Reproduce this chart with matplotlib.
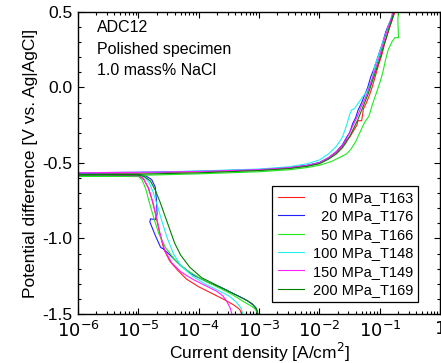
import matplotlib
matplotlib.use("Agg")
import matplotlib.pyplot as plt
import numpy as np
from matplotlib.ticker import LogLocator, MultipleLocator, FixedFormatter, FixedLocator

plt.rcParams["font.family"] = ["Liberation Sans", "DejaVu Sans"]
plt.rcParams["axes.unicode_minus"] = False

# figure spaces (U+2007) keep the legend labels right-aligned like the original
labels = ["\u2007\u20070 MPa_T163", "\u200720 MPa_T176", "\u200750 MPa_T166",
          "100 MPa_T148", "150 MPa_T149", "200 MPa_T169"]
colors = ["#ff2020", "#2020ff", "#20e820", "#20f0f0", "#ff20ff", "#008000"]

# each curve: cathodic branch from the bottom up to Ecorr, then anodic branch (log10 current, potential)
red_logi = [-3.29, -3.32, -3.42, -3.6, -3.8, -4.0, -4.2, -4.35, -4.48, -4.58, -4.65, -4.71, -4.77, -4.84, -4.92, -5.0, -5.5, -7,
            -7, -5, -4, -3, -2.5, -2.2, -2.0, -1.85, -1.72, -1.62, -1.55, -1.5, -1.44, -1.38, -1.36, -1.30, -1.27, -1.22,
            -1.17, -1.12, -1.07, -1.02, -0.97, -0.92, -0.86, -0.80, -0.75, -0.72]
red_e = [-1.5, -1.47, -1.44, -1.40, -1.36, -1.32, -1.27, -1.21, -1.15, -1.07, -0.96, -0.85, -0.75, -0.66, -0.60, -0.585, -0.582, -0.58,
         -0.572, -0.566, -0.558, -0.546, -0.532, -0.518, -0.50, -0.47, -0.43, -0.39, -0.35, -0.33, -0.29, -0.25, -0.22, -0.22, -0.14, -0.10,
         -0.05, 0.01, 0.08, 0.15, 0.21, 0.29, 0.37, 0.44, 0.50, 0.55]

blue_logi = [-3.02, -3.04, -3.1, -3.2, -3.4, -3.6, -3.85, -4.1, -4.3, -4.45, -4.58, -4.63, -4.72, -4.77, -4.81, -4.80, -4.72, -4.69,
             -4.70, -4.72, -4.78, -4.88, -5.0, -7,
             -7, -5, -4, -3, -2.5, -2.2, -2.0, -1.85, -1.72, -1.62, -1.55, -1.5, -1.45, -1.40, -1.36, -1.30, -1.25, -1.20,
             -1.15, -1.10, -1.05, -1.00, -0.95, -0.90, -0.85, -0.80, -0.76]
blue_e = [-1.5, -1.47, -1.44, -1.41, -1.37, -1.33, -1.29, -1.24, -1.18, -1.12, -1.07, -1.06, -0.98, -0.93, -0.89, -0.87, -0.875, -0.84,
          -0.75, -0.66, -0.61, -0.585, -0.575, -0.572,
          -0.566, -0.562, -0.555, -0.543, -0.53, -0.515, -0.497, -0.465, -0.425, -0.38, -0.33, -0.30, -0.24, -0.20, -0.15, -0.10, -0.05, 0.00,
          0.07, 0.12, 0.18, 0.24, 0.30, 0.37, 0.42, 0.45, 0.52]

green_logi = [-3.02, -3.06, -3.12, -3.25, -3.45, -3.7, -3.95, -4.2, -4.4, -4.55, -4.66, -4.74, -4.82, -4.88, -4.94, -5.0, -5.5, -7,
              -7, -5, -4, -3, -2.5, -2.2, -2.0, -1.8, -1.65, -1.55, -1.48, -1.40, -1.32, -1.25, -1.18, -1.12, -1.06, -1.0,
              -0.95, -0.90, -0.86, -0.80, -0.75, -0.69, -0.70, -0.68]
green_e = [-1.5, -1.47, -1.45, -1.42, -1.37, -1.32, -1.27, -1.21, -1.14, -1.06, -0.97, -0.87, -0.76, -0.67, -0.61, -0.59, -0.588, -0.586,
           -0.59, -0.582, -0.572, -0.558, -0.545, -0.53, -0.515, -0.49, -0.46, -0.44, -0.41, -0.36, -0.29, -0.23, -0.19, -0.11, -0.04, 0.03,
           0.10, 0.19, 0.25, 0.30, 0.33, 0.33, 0.45, 0.55]

cyan_logi = [-3.27, -3.30, -3.38, -3.5, -3.7, -3.9, -4.1, -4.3, -4.42, -4.52, -4.60, -4.68, -4.75, -4.82, -4.90, -4.98, -7,
             -7, -5, -4, -3, -2.5, -2.2, -2.0, -1.85, -1.72, -1.62, -1.55, -1.50, -1.47, -1.42, -1.35, -1.28, -1.22,
             -1.16, -1.12, -1.08, -1.03, -0.98, -0.93, -0.88, -0.83, -0.78, -0.75]
cyan_e = [-1.5, -1.46, -1.42, -1.38, -1.34, -1.30, -1.25, -1.18, -1.10, -1.00, -0.90, -0.79, -0.70, -0.63, -0.595, -0.58, -0.575,
          -0.568, -0.562, -0.553, -0.540, -0.525, -0.505, -0.48, -0.44, -0.39, -0.33, -0.25, -0.18, -0.15, -0.14, -0.10, -0.06, -0.03,
          0.02, 0.06, 0.15, 0.20, 0.26, 0.32, 0.38, 0.44, 0.50, 0.54]

magenta_logi = [-3.45, -3.48, -3.53, -3.6, -3.7, -3.9, -4.1, -4.3, -4.45, -4.56, -4.64, -4.70, -4.76, -4.83, -4.91, -4.98, -5.5, -7,
                -7, -5, -4, -3, -2.5, -2.2, -2.0, -1.85, -1.72, -1.62, -1.55, -1.49, -1.43, -1.37, -1.31, -1.25, -1.20,
                -1.15, -1.10, -1.05, -1.00, -0.95, -0.90, -0.85, -0.80, -0.77]
magenta_e = [-1.5, -1.46, -1.42, -1.38, -1.35, -1.31, -1.27, -1.22, -1.16, -1.08, -0.97, -0.86, -0.76, -0.67, -0.61, -0.585, -0.58, -0.578,
             -0.567, -0.562, -0.556, -0.544, -0.531, -0.516, -0.498, -0.466, -0.425, -0.385, -0.34, -0.29, -0.24, -0.19, -0.13, -0.08, -0.03,
             0.03, 0.09, 0.15, 0.21, 0.28, 0.35, 0.41, 0.47, 0.53]

dkgreen_logi = [-3.02, -3.05, -3.12, -3.25, -3.45, -3.7, -3.95, -4.15, -4.3, -4.40, -4.48, -4.56, -4.64, -4.72, -4.80, -4.90, -5.0, -7,
                -7, -5, -4, -3, -2.5, -2.2, -2.0, -1.85, -1.72, -1.62, -1.55, -1.48, -1.42, -1.36, -1.30, -1.24, -1.19,
                -1.14, -1.09, -1.04, -0.99, -0.94, -0.89, -0.84, -0.79, -0.74]
dkgreen_e = [-1.5, -1.46, -1.43, -1.40, -1.36, -1.31, -1.26, -1.19, -1.11, -1.03, -0.94, -0.85, -0.76, -0.68, -0.62, -0.59, -0.58, -0.578,
             -0.58, -0.574, -0.565, -0.55, -0.537, -0.522, -0.505, -0.475, -0.44, -0.40, -0.36, -0.31, -0.26, -0.21, -0.15, -0.09, -0.04,
             0.02, 0.08, 0.14, 0.20, 0.27, 0.33, 0.40, 0.46, 0.53]

curves_logi = [red_logi, blue_logi, green_logi, cyan_logi, magenta_logi, dkgreen_logi]
curves_e = [red_e, blue_e, green_e, cyan_e, magenta_e, dkgreen_e]

xtick_labels = ["$10^{-6}$", "$10^{-5}$", "$10^{-4}$", "$10^{-3}$", "$10^{-2}$", "$10^{-1}$", "$1$"]
ytick_labels = ["-1.5", "-1.0", "-0.5", "0.0", "0.5"]

fig = plt.figure(figsize=(4.41, 3.63), dpi=100)
ax = fig.add_axes([0.177, 0.135, 0.821, 0.832])

for logi, e, c, lab in zip(curves_logi, curves_e, colors, labels):
    ax.plot(10 ** np.array(logi), e, color=c, lw=0.8, label=lab)

ax.set_xscale("log")
ax.set_xlim(1e-6, 1)
ax.set_ylim(-1.5, 0.5)
ax.xaxis.set_major_locator(FixedLocator([1e-6, 1e-5, 1e-4, 1e-3, 1e-2, 1e-1, 1]))
ax.xaxis.set_major_formatter(FixedFormatter(xtick_labels))
ax.xaxis.set_minor_locator(LogLocator(base=10, subs=np.arange(2, 10), numticks=20))
ax.yaxis.set_major_locator(FixedLocator([-1.5, -1.0, -0.5, 0.0, 0.5]))
ax.yaxis.set_major_formatter(FixedFormatter(ytick_labels))
ax.yaxis.set_minor_locator(MultipleLocator(0.1))
ax.tick_params(which="both", direction="in", top=True, right=True, width=0.8)
ax.tick_params(which="major", length=4)
ax.tick_params(which="minor", length=2.5)
ax.tick_params(axis="y", labelsize=12.5, pad=4)
ax.tick_params(axis="x", labelsize=13, pad=5)
for s in ax.spines.values():
    s.set_linewidth(1.0)

ax.set_xlabel("Current density [A/cm$^2$]", fontsize=12.5, labelpad=0)
ax.set_ylabel("Potential difference [V vs. Ag|AgCl]", fontsize=12.5, labelpad=3)

ax.text(0.052, 0.947, "ADC12", transform=ax.transAxes, fontsize=11.5, va="center")
ax.text(0.052, 0.877, "Polished specimen", transform=ax.transAxes, fontsize=11.5, va="center")
ax.text(0.052, 0.805, "1.0 mass% NaCl", transform=ax.transAxes, fontsize=11.5, va="center")

leg = ax.legend(loc="upper right", bbox_to_anchor=(0.939, 0.424), fontsize=10.5, fancybox=False,
                framealpha=1, edgecolor="black", handlelength=1.8, handletextpad=0.6,
                labelspacing=0.3, borderpad=0.35, borderaxespad=0)
leg.get_frame().set_linewidth(0.9)

fig.savefig("out.png", dpi=100)
